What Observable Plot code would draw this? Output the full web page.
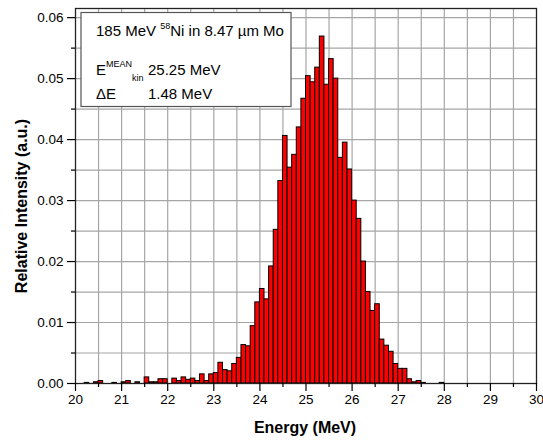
<!DOCTYPE html>
<html>
<head>
<meta charset="utf-8">
<script src="https://cdn.jsdelivr.net/npm/d3@7"></script>
<script src="https://cdn.jsdelivr.net/npm/@observablehq/plot@0.6"></script>
<style>
  html, body { margin: 0; padding: 0; background: #fff; }
  #chart { width: 543px; height: 441px; }
</style>
</head>
<body>
<div id="chart"></div>
<script>
// Bin start energies (MeV), bin width 0.1 MeV
const binStarts = [
  20.2, 20.4, 20.5, 20.8, 21.0, 21.1, 21.3, 21.5, 21.6, 21.7, 21.8, 21.9,
  22.1, 22.2, 22.3, 22.4, 22.5, 22.6, 22.7, 22.8, 22.9,
  23.0, 23.1, 23.2, 23.3, 23.4, 23.5, 23.6, 23.7, 23.8, 23.9,
  24.0, 24.1, 24.2, 24.3, 24.4, 24.5, 24.6, 24.7, 24.8, 24.9,
  25.0, 25.1, 25.2, 25.3, 25.4, 25.5, 25.6, 25.7, 25.8, 25.9,
  26.0, 26.1, 26.2, 26.3, 26.4, 26.5, 26.6, 26.7, 26.8, 26.9,
  27.0, 27.1, 27.2, 27.3, 27.4, 27.5, 27.9
];
const intensities = [
  0.0001, 0.0002, 0.0004, 0.0001, 0.0002, 0.0004, 0.0002, 0.0010, 0.0002, 0.0002, 0.0007, 0.0007,
  0.0008, 0.0004, 0.0010, 0.0006, 0.0008, 0.0004, 0.0015, 0.0004, 0.0015,
  0.0017, 0.0034, 0.0022, 0.0020, 0.0032, 0.0042, 0.0063, 0.0061, 0.0094, 0.0133,
  0.0155, 0.0138, 0.0192, 0.0252, 0.0332, 0.0406, 0.0354, 0.0375, 0.0420, 0.0467,
  0.0504, 0.0494, 0.0518, 0.0569, 0.0490, 0.0532, 0.0500, 0.0370, 0.0395, 0.0351,
  0.0300, 0.0270, 0.0200, 0.0150, 0.0119, 0.0130, 0.0072, 0.0062, 0.0052, 0.0032,
  0.0024, 0.0024, 0.0007, 0.0002, 0.0004, 0.0001, 0.0001
];
const binWidth = 0.1;
const xMajorTicks = [20, 21, 22, 23, 24, 25, 26, 27, 28, 29, 30];
const xMinorTicks = [20.5, 21.5, 22.5, 23.5, 24.5, 25.5, 26.5, 27.5, 28.5, 29.5];
const yMajorTicks = [0, 0.01, 0.02, 0.03, 0.04, 0.05, 0.06];
const yMinorTicks = [0.005, 0.015, 0.025, 0.035, 0.045, 0.055];
const xGrid = [20.5, 21, 21.5, 22, 22.5, 23, 23.5, 24, 24.5, 25, 25.5, 26, 26.5, 27, 27.5, 28, 28.5, 29, 29.5];
const yGrid = [0.005, 0.01, 0.015, 0.02, 0.025, 0.03, 0.035, 0.04, 0.045, 0.05, 0.055, 0.06];
const xTitle = "Energy (MeV)";
const yTitle = "Relative Intensity (a.u.)";

const bins = binStarts.map((s, i) => ({x1: s, x2: s + binWidth, v: intensities[i]}));

const FONT = "'Liberation Sans', Arial, Helvetica, sans-serif";

const plot = Plot.plot({
  width: 543,
  height: 441,
  marginLeft: 75,
  marginRight: 7,
  marginTop: 8,
  marginBottom: 58,
  style: {fontFamily: FONT, fontSize: "13.5px", background: "#fff", color: "#000"},
  x: {domain: [20, 30], label: null},
  y: {domain: [0, 0.0615], label: null},
  marks: [
    Plot.gridX(xGrid, {stroke: "#a6a6a6", strokeOpacity: 1, strokeWidth: 1.2}),
    Plot.gridY(yGrid, {stroke: "#a6a6a6", strokeOpacity: 1, strokeWidth: 1.2}),
    Plot.rectY(bins, {x1: "x1", x2: "x2", y: "v", fill: "#ff0000", stroke: "#000", strokeWidth: 1}),
    Plot.frame({stroke: "#222", strokeWidth: 1.3}),
    Plot.axisX(xMajorTicks, {tickSize: 8, tickPadding: 3, fontSize: 13.5, stroke: "#000", strokeWidth: 1.2}),
    Plot.axisX(xMinorTicks, {tickSize: 4, tickFormat: () => "", stroke: "#000", strokeWidth: 1.2}),
    Plot.axisY(yMajorTicks, {tickSize: 8, tickPadding: 4, tickFormat: d3.format(".2f"), fontSize: 13.5, stroke: "#000", strokeWidth: 1.2}),
    Plot.axisY(yMinorTicks, {tickSize: 4, tickFormat: () => "", stroke: "#000", strokeWidth: 1.2})
  ]
});

document.getElementById("chart").appendChild(plot);

const svg = d3.select(plot);
// axis titles
svg.append("text")
  .attr("x", 305).attr("y", 433)
  .attr("text-anchor", "middle")
  .attr("font-family", FONT).attr("font-size", 16).attr("font-weight", "bold")
  .text(xTitle);
svg.append("text")
  .attr("transform", "translate(27,206) rotate(-90)")
  .attr("text-anchor", "middle")
  .attr("font-family", FONT).attr("font-size", 16).attr("font-weight", "bold")
  .text(yTitle);

// annotation box
const g = svg.append("g").attr("font-family", FONT).attr("fill", "#000").attr("text-anchor", "start");
g.append("rect").attr("x", 81).attr("y", 12.5).attr("width", 210).attr("height", 94)
  .attr("fill", "#fff").attr("stroke", "#555").attr("stroke-width", 1.2);
const t1 = g.append("text").attr("x", 96).attr("y", 36).attr("font-size", 15);
t1.append("tspan").text("185 MeV ");
t1.append("tspan").attr("font-size", 9).attr("dy", -7).text("58");
t1.append("tspan").attr("dy", 7).text("Ni in 8.47 \u00b5m Mo");
const t2 = g.append("text").attr("x", 96).attr("y", 75).attr("font-size", 15);
t2.append("tspan").text("E");
t2.append("tspan").attr("font-size", 9).attr("dy", -8).text("MEAN");
t2.append("tspan").attr("font-size", 9).attr("dy", 14).text("kin");
g.append("text").attr("x", 148).attr("y", 75).attr("font-size", 15).text("25.25 MeV");
g.append("text").attr("x", 96).attr("y", 99).attr("font-size", 15).text("\u0394E");
g.append("text").attr("x", 148).attr("y", 99).attr("font-size", 15).text("1.48 MeV");
</script>
</body>
</html>
